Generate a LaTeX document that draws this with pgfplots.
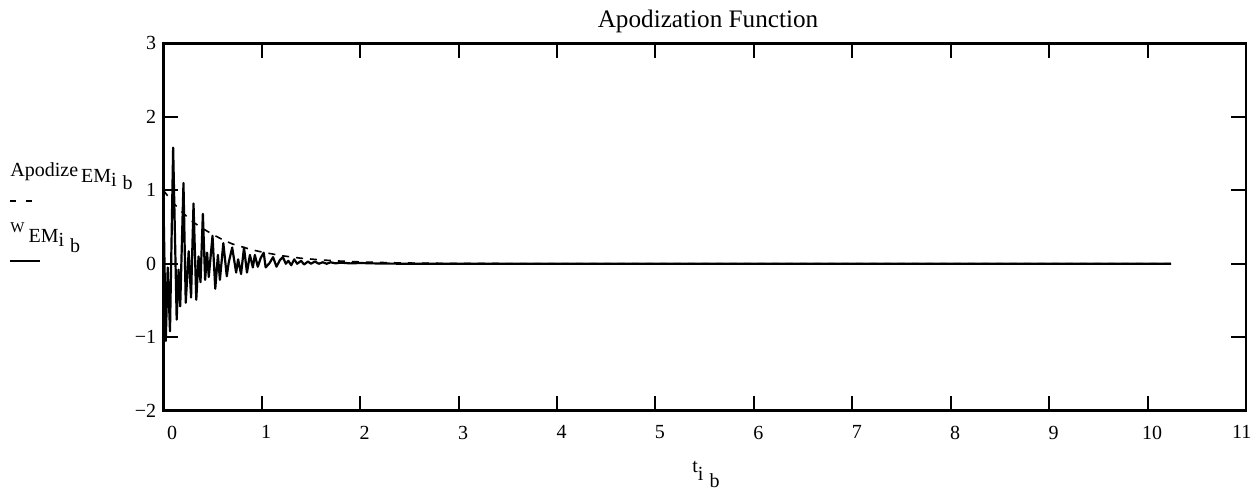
\documentclass[border=0pt]{standalone}
\usepackage{fontspec}
\setmainfont{Liberation Serif}
\usepackage{pgfplots}
\pgfplotsset{compat=1.18}

\pgfplotstableread{
t v
0.000 1.00
0.025 -1.05
0.045 -0.05
0.068 -0.92
0.100 1.58
0.136 -0.76
0.155 -0.08
0.172 -0.58
0.205 1.10
0.228 -0.53
0.258 0.17
0.282 -0.46
0.307 0.82
0.335 -0.49
0.358 0.10
0.378 -0.25
0.402 0.68
0.425 -0.22
0.445 0.15
0.462 -0.18
0.500 0.38
0.528 -0.34
0.555 0.12
0.575 -0.22
0.610 0.28
0.645 -0.17
0.665 0.02
0.700 0.22
0.740 -0.12
0.760 0.06
0.790 -0.14
0.820 0.22
0.850 -0.12
0.880 0.12
0.910 -0.05
0.930 0.12
0.960 -0.04
0.990 0.08
1.020 0.15
1.040 -0.05
1.080 0.01
1.115 0.09
1.150 -0.04
1.185 0.05
1.215 0.09
1.245 0.00
1.270 0.04
1.300 -0.02
1.330 0.06
1.360 0.00
1.400 0.04
1.430 -0.01
1.470 0.03
1.500 0.00
1.540 0.03
1.580 0.00
1.620 0.02
1.660 0.00
1.700 0.02
1.750 0.005
1.800 0.015
1.900 0.005
2.000 0.01
2.200 0.003
2.500 0.0
10.24 0.0
}\wdata

\pgfplotstableread{
t v
0.00 1.00
0.10 0.83
0.20 0.69
0.30 0.57
0.40 0.48
0.50 0.40
0.60 0.33
0.70 0.27
0.80 0.23
0.90 0.19
1.00 0.16
1.20 0.11
1.40 0.075
1.60 0.052
1.80 0.036
2.00 0.025
2.30 0.014
2.60 0.008
3.00 0.004
4.00 0.001
5.00 0.0
10.24 0.0
}\adata

\begin{document}
\begin{tikzpicture}
\useasboundingbox (0,0) rectangle (629pt,244.5pt);
\begin{axis}[
  at={(81.65pt,39.15pt)}, anchor=south west,
  scale only axis, width=541.35pt, height=183.7pt,
  xmin=0, xmax=11, ymin=-2, ymax=3,
  xtick={0,1,2,3,4,5,6,7,8,9,10,11},
  xticklabels={{\kern4.2pt 0},1,2,3,4,5,6,7,8,9,10,{11\kern8.8pt}},
  ytick={-2,-1,0,1,2,3},
  yticklabels={−2,−1,0,1,2,3},
  tick align=inside,
  major tick length=7.5pt,
  tick style={line width=1pt, black},
  axis line style={line width=1.3pt},
  ticklabel style={font=\fontsize{10}{12}\selectfont},
  xticklabel style={xshift=2.25pt, yshift=-4pt},
  clip=true,
]
\addplot[black, line width=0.8pt, dash pattern=on 3.5pt off 3.5pt] table[x=t,y=v] {\adata};
\addplot[black, line width=1.1pt, line join=round] table[x=t,y=v] {\wdata};
\end{axis}
\node[anchor=base, font=\fontsize{12.6}{15}\selectfont, inner sep=0] at (354pt,231pt) {Apodization Function};
\node[anchor=base west, font=\fontsize{10}{12}\selectfont, inner sep=0] at (5pt,156.5pt)
  {Apodize\kern1.5pt\raisebox{-3pt}{EM}\raisebox{-5pt}{i}\kern3pt\raisebox{-6.5pt}{b}};
\draw[line width=0.8pt] (5pt,144pt) -- (8pt,144pt) (13pt,144pt) -- (16pt,144pt);
\node[anchor=base west, font=\fontsize{10}{12}\selectfont, inner sep=0] at (5pt,128.5pt)
  {{\fontsize{7.5}{9}\selectfont W}\kern2pt\raisebox{-5pt}{EM}\raisebox{-7pt}{i}\kern3pt\raisebox{-10pt}{b}};
\draw[line width=0.8pt] (5pt,114pt) -- (20pt,114pt);
\node[anchor=base west, font=\fontsize{10}{12}\selectfont, inner sep=0] at (346pt,8.5pt)
  {t\raisebox{-4pt}{i}\kern3pt\raisebox{-7.5pt}{b}};
\end{tikzpicture}
\end{document}
